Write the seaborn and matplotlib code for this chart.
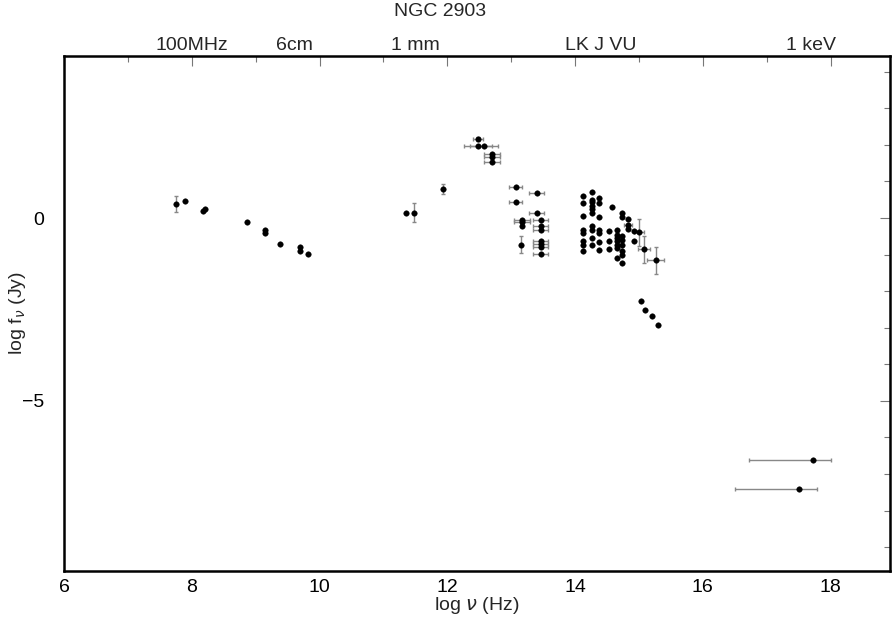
import numpy as np
import pandas as pd
import matplotlib
matplotlib.use("Agg")
import matplotlib.pyplot as plt
import seaborn as sns

# log nu (Hz), log f_nu (Jy), errors
log_nu = [7.76, 7.90, 8.18, 8.20, 8.87, 9.15, 9.15, 9.375, 9.69, 9.69, 9.82,
          11.36, 11.48, 11.93,
          12.48, 12.48, 12.57, 12.70, 12.70, 12.70,
          13.07, 13.40, 13.07, 13.40, 13.17, 13.17, 13.17, 13.46, 13.46, 13.46,
          13.16, 13.46, 13.46, 13.46, 13.46,
          14.13, 14.13, 14.13, 14.13, 14.13, 14.13, 14.13, 14.13,
          14.26, 14.26, 14.26, 14.26, 14.26, 14.26, 14.26, 14.26, 14.26, 14.26,
          14.38, 14.38, 14.38, 14.38, 14.38, 14.38, 14.38,
          14.58, 14.53, 14.53, 14.53,
          14.66, 14.66, 14.66, 14.66, 14.66, 14.66, 14.66,
          14.73, 14.73, 14.73, 14.73, 14.73, 14.73, 14.73, 14.73,
          14.83, 14.83, 14.83, 14.92, 15.00, 14.92, 15.08, 15.26,
          15.04, 15.09, 15.20, 15.30,
          17.72, 17.50]
log_f = [0.39, 0.46, 0.18, 0.25, -0.12, -0.34, -0.41, -0.71, -0.78, -0.90, -0.99,
         0.15, 0.15, 0.80,
         2.16, 1.98, 1.98, 1.75, 1.68, 1.54,
         0.86, 0.68, 0.45, 0.14, -0.05, -0.12, -0.23, -0.05, -0.23, -0.32,
         -0.73, -0.64, -0.70, -0.78, -0.98,
         0.59, 0.41, 0.06, -0.32, -0.41, -0.64, -0.73, -0.89,
         0.70, 0.50, 0.43, 0.34, 0.25, 0.15, -0.23, -0.32, -0.55, -0.73,
         0.55, 0.41, 0.03, -0.32, -0.41, -0.66, -0.87,
         0.30, -0.36, -0.64, -0.85,
         -0.32, -0.46, -0.55, -0.64, -0.73, -0.82, -1.09,
         0.14, 0.04, -0.50, -0.59, -0.73, -0.91, -1.00, -1.23,
         -0.03, -0.18, -0.30, -0.36, -0.39, -0.64, -0.85, -1.16,
         -2.28, -2.51, -2.69, -2.93,
         -6.62, -7.40]
x_err = [0.0, 0.0, 0.0, 0.0, 0.0, 0.0, 0.0, 0.0, 0.0, 0.0, 0.0,
         0.0, 0.0, 0.0,
         0.08, 0.22, 0.22, 0.12, 0.12, 0.12,
         0.10, 0.12, 0.10, 0.12, 0.12, 0.12, 0.0, 0.12, 0.12, 0.12,
         0.0, 0.12, 0.12, 0.12, 0.12,
         0.0, 0.0, 0.0, 0.0, 0.0, 0.0, 0.0, 0.0,
         0.0, 0.0, 0.0, 0.0, 0.0, 0.0, 0.0, 0.0, 0.0, 0.0,
         0.0, 0.0, 0.0, 0.0, 0.0, 0.0, 0.0,
         0.0, 0.0, 0.0, 0.0,
         0.0, 0.0, 0.0, 0.0, 0.0, 0.0, 0.0,
         0.0, 0.0, 0.0, 0.0, 0.0, 0.0, 0.0, 0.0,
         0.0, 0.06, 0.0, 0.0, 0.08, 0.0, 0.10, 0.14,
         0.0, 0.0, 0.0, 0.0,
         0.65, 0.65]
x_err_lo = [e for e in x_err]
x_err_lo[-2] = 1.00
x_err_lo[-1] = 1.00
x_err_hi = [e for e in x_err]
x_err_hi[-2] = 0.29
x_err_hi[-1] = 0.29
y_err = [0.22, 0.0, 0.0, 0.0, 0.0, 0.0, 0.0, 0.0, 0.0, 0.0, 0.0,
         0.0, 0.25, 0.14,
         0.06, 0.0, 0.0, 0.0, 0.0, 0.0,
         0.0, 0.0, 0.0, 0.0, 0.0, 0.0, 0.0, 0.0, 0.0, 0.0,
         0.23, 0.0, 0.0, 0.0, 0.0,
         0.0, 0.0, 0.0, 0.0, 0.0, 0.0, 0.0, 0.0,
         0.0, 0.0, 0.0, 0.0, 0.0, 0.0, 0.0, 0.0, 0.0, 0.0,
         0.0, 0.0, 0.0, 0.0, 0.0, 0.0, 0.0,
         0.0, 0.0, 0.0, 0.0,
         0.0, 0.0, 0.0, 0.0, 0.0, 0.0, 0.0,
         0.0, 0.0, 0.0, 0.0, 0.0, 0.0, 0.0, 0.0,
         0.0, 0.0, 0.0, 0.0, 0.37, 0.0, 0.37, 0.37,
         0.0, 0.0, 0.0, 0.0,
         0.0, 0.0]

band_pos = [8.0, 9.6, 11.5, 14.4, 17.7]
band_labels = ["100MHz", "6cm", "1 mm", "LK J VU", "1 keV"]

df = pd.DataFrame({"log_nu": log_nu, "log_f": log_f})

sns.set_theme(style="white")
plt.rcParams["font.family"] = ["Liberation Sans", "DejaVu Sans"]

fig = plt.figure(figsize=(8.92, 6.25), dpi=100)
ax = fig.add_axes([64/892, (625-571)/625, (890-64)/892, (571-56)/625])

ax.errorbar(log_nu, log_f, xerr=[x_err_lo, x_err_hi], yerr=y_err, fmt="none",
            ecolor="#888888", elinewidth=1.0, capsize=1.5, capthick=1.0, zorder=2)
sns.scatterplot(data=df, x="log_nu", y="log_f", ax=ax, color="black", s=16,
                edgecolor="black", linewidth=0.3, zorder=3, legend=False)

ax.set_xlim(6, 18.93)
ax.set_ylim(-9.65, 4.43)
ax.set_xticks([6, 8, 10, 12, 14, 16, 18])
ax.set_xticks(np.arange(7, 19, 2), minor=True)
ax.set_yticks([-5, 0])
ax.set_yticklabels(["\u22125", "0"])
ax.set_yticks(np.arange(-9, 5, 1), minor=True)
ax.tick_params(axis="both", which="both", direction="in", top=True, right=True,
               colors="#777777", labelcolor="black", labelsize=14, width=0.8)
ax.tick_params(axis="both", which="major", length=7)
ax.tick_params(axis="both", which="minor", length=4)
ax.tick_params(axis="x", pad=6)
ax.tick_params(axis="y", pad=14)
for sp in ax.spines.values():
    sp.set_color("black")
    sp.set_linewidth(1.8)

ax.set_xlabel("log $\\nu$ (Hz)", fontsize=14, labelpad=-1)
ax.set_ylabel("log f$_{\\nu}$ (Jy)", fontsize=14)
ax.yaxis.set_label_coords((28 - 64) / 826, 0.5)

for p, lab in zip(band_pos, band_labels):
    ax.text(p, 1.003, lab, transform=ax.get_xaxis_transform(), ha="center",
            va="bottom", fontsize=14)
fig.text(440/892, 1 - 12/625, "NGC 2903", ha="center",
         va="center", fontsize=14)

fig.savefig("out.png", dpi=100)
